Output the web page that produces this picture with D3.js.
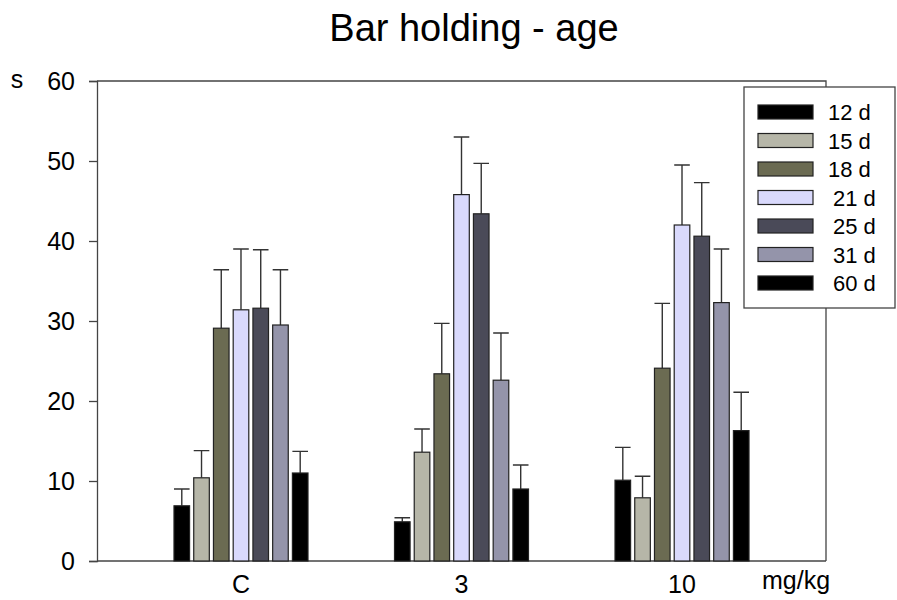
<!DOCTYPE html>
<html>
<head>
<meta charset="utf-8">
<script src="https://cdn.jsdelivr.net/npm/d3@7"></script>
<style>
  body { margin: 0; background: #fff; }
  text { font-family: Arial, "Liberation Sans", sans-serif; fill: #000; }
</style>
</head>
<body>
<svg id="chart" width="897" height="600"></svg>
<script>
const doses = ["C", "3", "10"];
const ages = ["12 d", "15 d", "18 d", "21 d", "25 d", "31 d", "60 d"];
const colors = ["#000000", "#b6b6a8", "#6b6b52", "#d9d9fc", "#4a4a58", "#9494aa", "#000000"];
// mean per age, one array per dose group
const meansC = [6.9, 10.4, 29.1, 31.4, 31.6, 29.5, 11.0];
const means3 = [4.9, 13.6, 23.4, 45.8, 43.4, 22.6, 9.0];
const means10 = [10.1, 7.9, 24.1, 42.0, 40.6, 32.3, 16.3];
// upper error (mean + SE)
const upperC = [9.0, 13.8, 36.4, 39.0, 38.9, 36.4, 13.7];
const upper3 = [5.4, 16.5, 29.7, 53.0, 49.7, 28.5, 12.0];
const upper10 = [14.2, 10.6, 32.2, 49.5, 47.3, 39.0, 21.1];
const yTicks = [0, 10, 20, 30, 40, 50, 60];

const means = [meansC, means3, means10];
const uppers = [upperC, upper3, upper10];

const svg = d3.select("#chart");
const plotL = 97, plotR = 826, plotT = 81, plotB = 561;

const y = d3.scaleLinear().domain([0, 60]).range([plotB, plotT]);
const x = d3.scalePoint().domain(doses).range([plotL, plotR]).padding(0.653);
const inner = d3.scaleBand().domain(ages).range([-67, 67]).paddingInner(0.21).paddingOuter(0);

// title
svg.append("text")
    .attr("x", 474).attr("y", 41)
    .attr("text-anchor", "middle")
    .style("font-size", "38px")
    .text("Bar holding - age");

// frame (top + right)
svg.append("path")
    .attr("d", `M${plotL},${plotT}H${plotR}V${plotB}`)
    .attr("fill", "none")
    .attr("stroke", "#444")
    .attr("stroke-width", 1.3);

// y axis
const yAxis = svg.append("g")
    .attr("transform", `translate(${plotL},0)`)
    .call(d3.axisLeft(y).tickValues(yTicks).tickSize(8).tickPadding(14));
yAxis.select(".domain").attr("stroke", "#444").attr("stroke-width", 1.3);
yAxis.selectAll(".tick line").attr("stroke", "#444").attr("stroke-width", 1.3);
yAxis.selectAll(".tick text")
    .style("font-size", "25px")
    .style("font-family", "Arial, 'Liberation Sans', sans-serif")
    .attr("fill", "#000");

svg.append("text")
    .attr("x", 17).attr("y", 88)
    .attr("text-anchor", "middle")
    .style("font-size", "25px")
    .text("s");

// x axis baseline
svg.append("line")
    .attr("x1", plotL).attr("x2", plotR)
    .attr("y1", plotB).attr("y2", plotB)
    .attr("stroke", "#444").attr("stroke-width", 1.3);

svg.selectAll(".xlab")
    .data(doses)
    .join("text")
    .attr("class", "xlab")
    .attr("x", d => x(d))
    .attr("y", 593)
    .attr("text-anchor", "middle")
    .style("font-size", "25px")
    .text(d => d);

svg.append("text")
    .attr("x", 796).attr("y", 589)
    .attr("text-anchor", "middle")
    .style("font-size", "25px")
    .text("mg/kg");

// bars + error bars
const rows = [];
doses.forEach((dose, gi) => {
    ages.forEach((age, ai) => {
        rows.push({ dose, age, color: colors[ai], mean: means[gi][ai], hi: uppers[gi][ai] });
    });
});

const g = svg.append("g");
const bw = inner.bandwidth();

g.selectAll(".err")
    .data(rows)
    .join("path")
    .attr("class", "err")
    .attr("d", d => {
        const cx = x(d.dose) + inner(d.age) + bw / 2;
        return `M${cx},${y(d.mean)}V${y(d.hi)}M${cx - bw / 2},${y(d.hi)}H${cx + bw / 2}`;
    })
    .attr("fill", "none")
    .attr("stroke", "#333")
    .attr("stroke-width", 1.4);

g.selectAll(".bar")
    .data(rows)
    .join("rect")
    .attr("class", "bar")
    .attr("x", d => x(d.dose) + inner(d.age))
    .attr("y", d => y(d.mean))
    .attr("width", bw)
    .attr("height", d => plotB - y(d.mean))
    .attr("fill", d => d.color)
    .attr("stroke", "#222")
    .attr("stroke-width", 1.2);

// legend
const lg = svg.append("g").attr("transform", "translate(744,87)");
lg.append("rect")
    .attr("width", 151).attr("height", 221)
    .attr("fill", "#fff")
    .attr("stroke", "#444")
    .attr("stroke-width", 1.3);

const item = lg.selectAll(".item")
    .data(ages)
    .join("g")
    .attr("class", "item")
    .attr("transform", (d, i) => `translate(0,${25 + i * 28.5})`);

item.append("rect")
    .attr("x", 14).attr("y", -7)
    .attr("width", 55).attr("height", 14)
    .attr("fill", (d, i) => colors[i])
    .attr("stroke", "#222")
    .attr("stroke-width", 1.2);

item.append("text")
    .attr("x", (d, i) => i >= 3 ? 89 : 84)
    .attr("y", 8)
    .style("font-size", "22px")
    .text(d => d);
</script>
</body>
</html>
